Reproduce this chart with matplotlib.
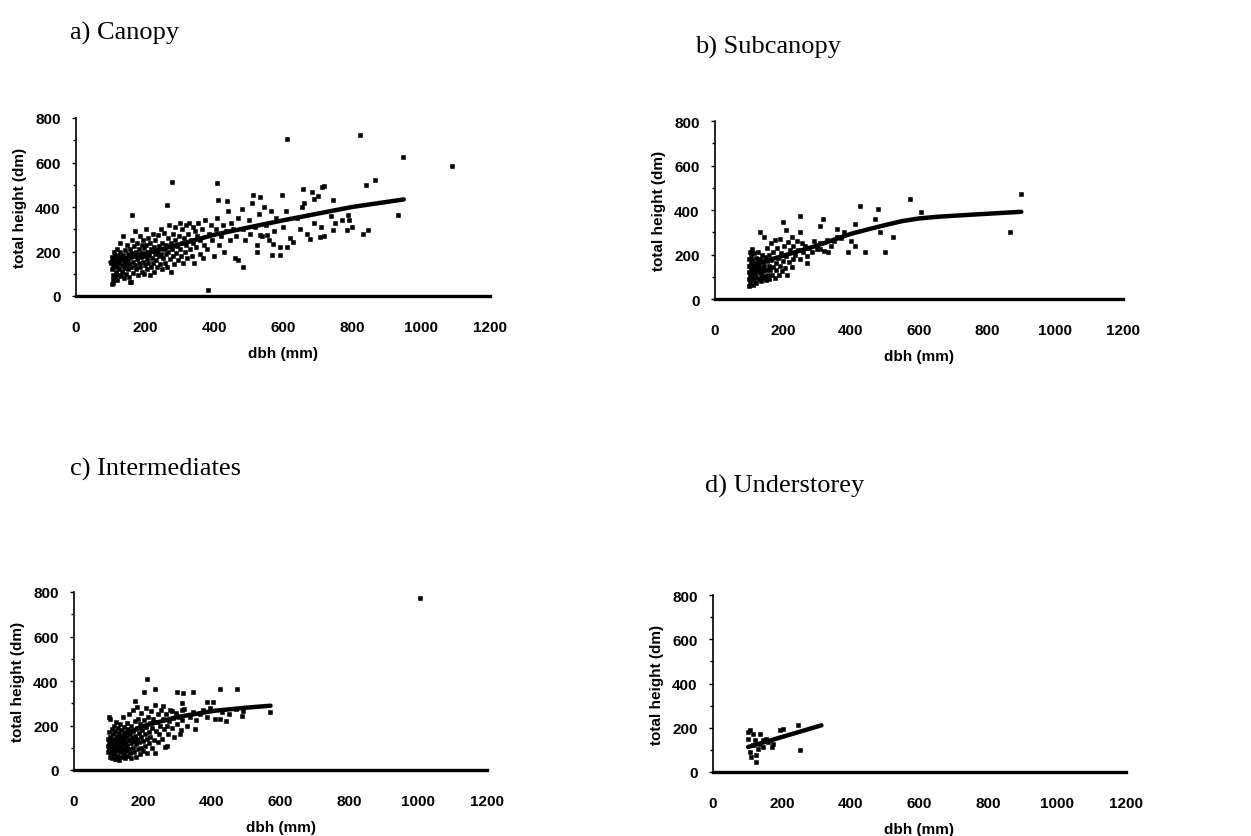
import matplotlib
matplotlib.use("Agg")
import matplotlib.pyplot as plt
from matplotlib.ticker import MultipleLocator

# a) Canopy - scatter of dbh (mm) vs total height (dm)
canopy_dbh = [102, 104, 105, 106, 108, 108, 110, 110, 112, 112, 114, 115, 116, 118, 118, 120, 120, 122, 124, 125,
              126, 128, 128, 130, 130, 132, 134, 135, 136, 138, 140, 140, 142, 144, 145, 146, 148, 150, 150, 152,
              154, 155, 156, 158, 160, 160, 162, 163, 165, 166,
              168, 170, 170, 172, 174, 175, 176, 178, 180, 180, 182, 184, 185, 186, 188, 190, 190, 192, 194, 195,
              196, 198, 200, 200, 202, 204, 205, 206, 208, 210, 210, 212, 214, 215, 216, 218, 220, 222, 224, 225,
              226, 228, 230, 232, 234, 236, 238, 240, 242, 244, 245, 246, 248, 250,
              252, 254, 256, 258, 260, 262, 264, 266, 268, 270, 272, 274, 276, 278, 280, 282, 284, 286, 288, 290,
              292, 295, 298, 300, 300, 303, 306, 308, 310, 312, 315, 318, 320, 322, 325, 328, 330, 332, 335, 338,
              340, 342, 345, 348,
              352, 355, 358, 360, 365, 368, 372, 375, 380, 385, 390, 395, 400, 405, 410, 415, 420, 425, 430, 435,
              440, 445, 450, 455, 460, 465, 470, 480, 485, 490, 500, 505, 510, 520, 525, 530, 540, 545, 550, 560,
              565, 575, 580, 590, 600,
              610, 620, 640, 650, 660, 670, 690, 700, 710, 720, 740, 750, 770, 790, 800,
              823, 611, 949, 1089, 277, 408, 867, 842, 384, 263, 161, 934, 833, 847, 485, 470, 659, 712, 720, 683,
              514, 532, 596, 690, 412, 437, 654, 746, 789, 785, 746, 707, 679, 630, 591, 568, 611, 572, 524, 533,
              553, 157, 108, 103]
canopy_ht = [150, 120, 175, 95, 140, 60, 200, 165, 130, 85, 185, 150, 110, 210, 70, 160, 135, 95, 180, 150,
             120, 240, 200, 165, 90, 140, 110, 185, 270, 155, 125, 80, 205, 170, 140, 100, 230, 160, 120, 190,
             85, 145, 210, 175, 130, 65, 250, 195, 155, 105,
             225, 180, 140, 290, 200, 120, 165, 240, 190, 95, 150, 210, 270, 130, 175, 230, 110, 195, 155, 250,
             100, 215, 180, 140, 300, 230, 165, 120, 200, 260, 150, 185, 95, 240, 130, 210, 170, 280, 150, 220,
             110, 190, 250, 160, 200, 130, 275, 180, 225, 145, 300, 190, 120, 240,
             170, 210, 285, 150, 230, 190, 130, 260, 200, 320, 165, 240, 110, 210, 280, 180, 145, 250, 310, 195,
             225, 160, 270, 330, 210, 180, 240, 300, 150, 260, 200, 320, 230, 170, 280, 330, 210, 250, 180, 310,
             240, 150, 290, 220,
             270, 330, 190, 250, 300, 170, 230, 340, 210, 280, 320, 250, 180, 300, 350, 230, 270, 320, 200, 290,
             380, 250, 330, 300, 170, 270, 350, 390, 300, 250, 340, 280, 420, 310, 230, 370, 270, 400, 320, 250,
             380, 290, 350, 220, 310,
             380, 260, 350, 300, 420, 280, 330, 450, 310, 270, 360, 330, 340, 340, 310,
             725, 707, 625, 584, 512, 509, 520, 497, 25, 407, 362, 365, 280, 295, 130, 160, 482, 490, 494, 467,
             455, 445, 452, 434, 430, 425, 400, 430, 362, 295, 295, 265, 258, 243, 183, 183, 220, 235, 198, 273,
             273, 63, 78, 55]
canopy_fit_dbh = [100, 200, 300, 400, 500, 600, 700, 800, 950]
canopy_fit_ht = [152, 190, 232, 275, 308, 340, 370, 400, 434]

# b) Subcanopy
subcanopy_dbh = [100, 100, 100, 100, 100, 102, 104, 104, 105, 106, 106, 108, 108, 110, 110, 110, 112, 112, 114, 115,
                 115, 116, 118, 120, 120, 122, 122, 124, 125, 126, 128, 130, 130, 132, 134, 135, 136, 138, 140, 140,
                 142, 144, 145, 146, 148, 150, 150,
                 152, 154, 155, 158, 160, 160, 162, 165, 166, 168, 170, 172, 175, 175, 178, 180, 182, 185, 188, 190,
                 192, 195, 198, 200, 202, 205, 208, 210, 212, 215, 218, 220, 225, 228, 230, 235, 240, 245, 250, 255,
                 260, 265, 270, 275, 285, 290, 300, 310, 320, 330, 340, 350, 360, 370, 380, 400,
                 573, 901, 867, 607, 480, 426, 470, 411, 411, 392, 441, 500, 524, 485, 250, 318, 309, 358, 201, 132,
                 250, 270, 225, 333, 309]
subcanopy_ht = [60, 90, 120, 150, 180, 210, 75, 105, 135, 165, 195, 85, 115, 145, 175, 225, 65, 100, 130, 160,
                205, 85, 115, 145, 185, 70, 100, 130, 165, 210, 90, 120, 150, 180, 80, 110, 140, 200, 95, 165,
                125, 280, 150, 105, 190, 130, 85,
                170, 230, 110, 150, 200, 90, 130, 250, 175, 110, 145, 210, 95, 265, 160, 130, 230, 185, 110, 150,
                270, 205, 125, 170, 240, 140, 310, 195, 110, 255, 165, 220, 280, 180, 240, 200, 260, 220, 180, 250,
                210, 240, 195, 230, 210, 260, 225, 250, 215, 265, 240, 260, 280, 275, 300, 260,
                451, 471, 299, 392, 404, 419, 359, 336, 239, 209, 209, 212, 277, 299, 374, 359, 329, 314, 344, 299,
                299, 164, 142, 209, 224]
subcanopy_fit_dbh = [103, 200, 300, 400, 450, 500, 550, 600, 650, 700, 800, 901]
subcanopy_fit_ht = [150, 194, 240, 293, 313, 332, 350, 362, 369, 374, 383, 392]

# c) Intermediates
intermed_dbh = [100, 100, 100, 101, 102, 103, 104, 105, 106, 107, 108, 109, 110, 111, 112, 113, 114, 115, 116, 117,
                118, 119, 120, 121, 122, 123, 124, 125, 126, 127, 128, 129, 130, 131, 132, 133, 134, 135, 136, 137,
                138, 139, 140, 141, 142, 143, 144, 145, 146, 147, 148, 149, 150,
                152, 153, 154, 155, 156, 158, 159, 160, 161, 162, 163, 165, 166, 167, 168, 170, 171, 172, 174, 175,
                176, 178, 179, 180, 182, 183, 184, 185, 187, 188, 190, 191, 192, 194, 195, 196, 198, 200, 201, 203,
                205, 206, 208, 210, 212, 213, 215, 217, 218, 220,
                222, 224, 226, 228, 230, 232, 235, 238, 240, 243, 245, 248, 250, 253, 256, 258, 261, 264, 267, 270,
                273, 276, 280, 284, 288, 292, 296, 300, 305, 310, 315, 320,
                328, 336, 345, 355, 365, 375, 385, 395, 410, 430, 450, 470, 490,
                1005, 211, 203, 235, 298, 317, 345, 424, 474, 385, 404, 177, 487, 443, 424, 351, 308, 269, 235, 569,
                259, 284, 313, 313, 103]
intermed_ht = [80, 110, 140, 170, 95, 125, 60, 150, 230, 105, 75, 185, 130, 55, 160, 90, 115, 200, 70, 140,
               100, 175, 50, 125, 85, 215, 155, 110, 65, 190, 135, 95, 165, 45, 120, 205, 80, 145, 105, 60,
               180, 130, 90, 240, 155, 115, 70, 195, 140, 100, 55, 170, 125,
               85, 210, 150, 110, 65, 185, 135, 95, 250, 160, 75, 120, 200, 55, 145, 100, 270, 175, 130, 80,
               220, 155, 60, 115, 190, 140, 285, 95, 230, 165, 125, 70, 205, 150, 100, 255, 180, 130, 85, 225,
               160, 110, 280, 195, 140, 75, 240, 170, 120, 210,
               150, 265, 100, 190, 230, 135, 290, 175, 215, 125, 250, 160, 200, 270, 140, 230, 185, 105, 250, 200,
               160, 220, 270, 190, 235, 150, 255, 205, 240, 180, 225, 275,
               200, 240, 260, 225, 250, 270, 240, 280, 230, 260, 250, 275, 265,
               773, 409, 349, 364, 352, 346, 352, 364, 364, 307, 307, 311, 241, 221, 229, 186, 161, 108, 78, 259,
               289, 266, 301, 271, 236]
intermed_fit_dbh = [106, 150, 203, 300, 407, 500, 571]
intermed_fit_ht = [123, 162, 198, 238, 266, 280, 289]

# d) Understorey
under_dbh = [107, 102, 116, 107, 126, 136, 155, 145, 170, 194, 204, 247, 252, 126, 111, 160, 136, 116, 102, 174,
             131, 145, 121]
under_ht = [188, 150, 120, 90, 45, 173, 150, 113, 113, 192, 195, 211, 98, 75, 68, 135, 128, 173, 180, 128,
            105, 143, 143]
under_fit_dbh = [102, 315]
under_fit_ht = [113, 211]

titles = ["a) Canopy", "b) Subcanopy", "c) Intermediates", "d) Understorey"]
panels = [(canopy_dbh, canopy_ht, canopy_fit_dbh, canopy_fit_ht),
          (subcanopy_dbh, subcanopy_ht, subcanopy_fit_dbh, subcanopy_fit_ht),
          (intermed_dbh, intermed_ht, intermed_fit_dbh, intermed_fit_ht),
          (under_dbh, under_ht, under_fit_dbh, under_fit_ht)]

W, H = 1251, 837
fig = plt.figure(figsize=(W / 100, H / 100), dpi=100)

# axes boxes in pixels: left, right (x=1200), bottom (y=0), top (y=800)
boxes = [(76, 490, 297, 119), (715, 1123, 300, 122), (74, 487, 771, 593), (713, 1126, 773, 596)]
title_pos = [(70, 33), (695, 47), (70, 469), (705, 486)]

tick_font = {"family": "Liberation Sans", "weight": "bold", "size": 11}

for (l, r, b, t), (x, y, fx, fy), title, (tx, ty) in zip(boxes, panels, titles, title_pos):
    ax = fig.add_axes([l / W, 1 - b / H, (r - l) / W, (b - t) / H])
    ax.scatter(x, y, s=6, marker="s", c="black", linewidths=0.4, edgecolors="black")
    ax.plot(fx, fy, color="black", linewidth=3.2, solid_capstyle="round")
    ax.set_xlim(0, 1200)
    ax.set_ylim(0, 800)
    ax.set_xticks([0, 200, 400, 600, 800, 1000, 1200])
    ax.set_yticks([0, 200, 400, 600, 800])
    ax.yaxis.set_minor_locator(MultipleLocator(100))
    ax.spines["top"].set_visible(False)
    ax.spines["right"].set_visible(False)
    ax.spines["left"].set_linewidth(1.2)
    ax.spines["bottom"].set_linewidth(2.4)
    ax.tick_params(axis="x", length=0, pad=17)
    ax.tick_params(axis="y", which="major", length=3, width=1, pad=8)
    ax.tick_params(axis="y", which="minor", length=2, width=1)
    for lab in ax.get_xticklabels() + ax.get_yticklabels():
        lab.set_fontfamily("Liberation Sans")
        lab.set_fontweight("bold")
        lab.set_fontsize(11)
    ax.set_xlabel("dbh (mm)", fontdict=tick_font, labelpad=9)
    ax.set_ylabel("total height (dm)", fontdict=tick_font, labelpad=6)
    fig.text(tx / W, 1 - ty / H, title, family="Liberation Serif", fontsize=19, va="center", ha="left")

fig.savefig("out.png", dpi=100)
